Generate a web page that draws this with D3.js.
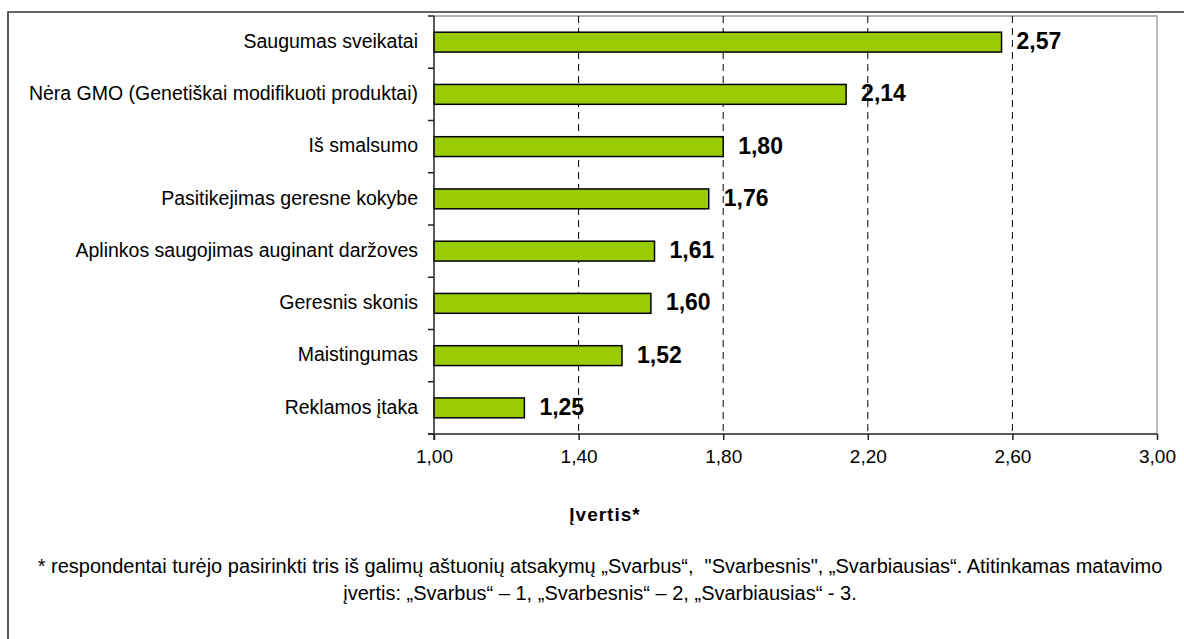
<!DOCTYPE html>
<html>
<head>
<meta charset="utf-8">
<script src="https://cdn.jsdelivr.net/npm/d3@7"></script>
<style>
  html, body { margin: 0; padding: 0; background: #fff; overflow: hidden; }
  svg { display: block; font-family: "Liberation Sans", Arial, sans-serif; }
  text { white-space: pre; }
</style>
</head>
<body>
<svg id="chart" width="1184" height="639"></svg>
<script>
// Answer categories (top to bottom) and their mean ratings
const categories = [
  "Saugumas sveikatai",
  "Nėra GMO (Genetiškai modifikuoti produktai)",
  "Iš smalsumo",
  "Pasitikejimas geresne kokybe",
  "Aplinkos saugojimas auginant daržoves",
  "Geresnis skonis",
  "Maistingumas",
  "Reklamos įtaka"
];
const values = [2.57, 2.14, 1.80, 1.76, 1.61, 1.60, 1.52, 1.25];
const xTicks = [1.00, 1.40, 1.80, 2.20, 2.60, 3.00];
const xTitle = "Įvertis*";
const footnote = [
  "* respondentai turėjo pasirinkti tris iš galimų aštuonių atsakymų „Svarbus“,  \"Svarbesnis\", „Svarbiausias“. Atitinkamas matavimo",
  "įvertis: „Svarbus“ – 1, „Svarbesnis“ – 2, „Svarbiausias“ - 3."
];

const svg = d3.select("#chart");
const plot = { left: 434, right: 1157, top: 16, bottom: 434 };
const fmt = v => d3.format(".2f")(v).replace(".", ",");

// Outer frame
svg.append("path")
  .attr("d", "M8,1000 V12 H1300")
  .attr("fill", "none").attr("stroke", "#333").attr("stroke-width", 1.6);

const x = d3.scaleLinear().domain([1, 3]).range([plot.left, plot.right]);
const y = d3.scaleBand().domain(categories).range([plot.top, plot.bottom])
  .paddingInner(0.62).paddingOuter(0.31);

// Plot area border (top and right)
svg.append("path")
  .attr("d", `M${plot.left},${plot.top} H${plot.right} V${plot.bottom}`)
  .attr("fill", "none").attr("stroke", "#999").attr("stroke-width", 1.3);

// Dashed vertical gridlines
svg.append("g").selectAll("line")
  .data(xTicks.slice(1, -1))
  .join("line")
  .attr("x1", d => x(d)).attr("x2", d => x(d))
  .attr("y1", plot.top).attr("y2", plot.bottom)
  .attr("stroke", "#000").attr("stroke-width", 1)
  .attr("stroke-dasharray", "7,5");

// Bars
svg.append("g").selectAll("rect")
  .data(values)
  .join("rect")
  .attr("x", x(1))
  .attr("y", (d, i) => y(categories[i]))
  .attr("width", d => x(d) - x(1))
  .attr("height", y.bandwidth())
  .attr("fill", "#99cc00")
  .attr("stroke", "#000").attr("stroke-width", 1.5);

// Value labels
svg.append("g").selectAll("text")
  .data(values)
  .join("text")
  .attr("x", d => x(d) + 15)
  .attr("y", (d, i) => y(categories[i]) + y.bandwidth() / 2)
  .attr("dy", "0.3em")
  .attr("font-size", 23).attr("font-weight", "bold").attr("fill", "#000")
  .text(d => fmt(d));

// Y axis: category labels with ticks between bands
const yAxisG = svg.append("g");
yAxisG.append("line")
  .attr("x1", plot.left).attr("x2", plot.left)
  .attr("y1", plot.top).attr("y2", plot.bottom + 6)
  .attr("stroke", "#222").attr("stroke-width", 1.5);
const bounds = d3.range(categories.length + 1).map(i => plot.top + i * y.step());
yAxisG.selectAll("line.tick")
  .data(bounds)
  .join("line").attr("class", "tick")
  .attr("x1", plot.left - 6).attr("x2", plot.left)
  .attr("y1", d => d).attr("y2", d => d)
  .attr("stroke", "#222").attr("stroke-width", 1.5);
yAxisG.selectAll("text")
  .data(categories)
  .join("text")
  .attr("x", plot.left - 16)
  .attr("y", d => y(d) + y.bandwidth() / 2)
  .attr("dy", "0.3em")
  .attr("text-anchor", "end")
  .attr("font-size", 19.5).attr("fill", "#000")
  .text(d => d);

// X axis
const xAxis = d3.axisBottom(x).tickValues(xTicks).tickSize(6).tickSizeOuter(0).tickFormat(fmt);
const xg = svg.append("g").attr("transform", `translate(0,${plot.bottom})`).call(xAxis);
xg.select(".domain").attr("stroke", "#222").attr("stroke-width", 1.5)
  .attr("d", `M${plot.left - 6},0H${plot.right}`);
xg.selectAll(".tick line").attr("stroke", "#222").attr("stroke-width", 1.5);
xg.selectAll(".tick text")
  .attr("font-family", "Liberation Sans, Arial, sans-serif")
  .attr("font-size", 19).attr("fill", "#000").attr("y", 16).attr("dy", "0.71em");

// X axis title
svg.append("text")
  .attr("x", 605).attr("y", 521)
  .attr("text-anchor", "middle")
  .attr("font-size", 19).attr("font-weight", "bold").attr("letter-spacing", 1)
  .text(xTitle);

// Footnote
svg.append("g").selectAll("text")
  .data(footnote)
  .join("text")
  .attr("x", 600)
  .attr("y", (d, i) => 573 + i * 27)
  .attr("text-anchor", "middle")
  .attr("font-size", 20).attr("fill", "#000")
  .text(d => d);
</script>
</body>
</html>
